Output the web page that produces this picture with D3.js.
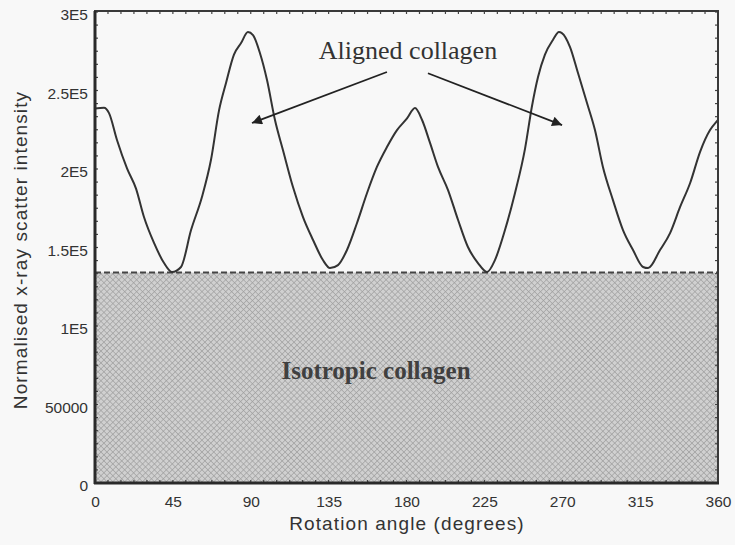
<!DOCTYPE html>
<html><head><meta charset="utf-8">
<script src="https://cdn.jsdelivr.net/npm/d3@7"></script>
<style>
html,body{margin:0;padding:0;background:#f8f8f8;}
svg{display:block;}
</style></head>
<body>
<svg id="chart" width="735" height="545"></svg>
<script>
// ---- data ----
const angles = [0,5.2,8.1,12.7,18.5,23.7,28.3,34.1,39.9,44.5,49.7,55.5,61.8,67.0,71.7,75.7,80.3,84.4,88.4,91.3,95.3,99.4,104.0,108.6,114.4,120.2,126.0,131.7,135.8,140.4,145.6,151.4,157.2,162.9,168.7,174.5,180.3,184.9,189.0,193.6,198.2,204.0,209.8,215.5,221.3,226.5,231.1,236.9,242.7,248.5,252.5,256.0,260.0,264.6,268.1,269.8,274.5,279.1,284.3,288.9,293.5,299.3,305.1,310.9,316.7,319.6,326.5,332.3,338.1,343.9,349.7,355.4,358.9,360];
const intensity = [238600,239000,235600,218500,200400,187500,169400,152900,140100,134400,137600,161100,182200,205700,237500,254800,272900,280200,287200,285300,273900,256700,231200,212100,188500,169400,154800,142000,136900,138800,148400,165600,184700,201300,214000,224800,232200,238800,231200,216600,201300,186600,167500,150300,140100,134400,142000,161100,184700,213000,240000,258600,272900,282200,287200,286600,277700,261100,242000,224800,201300,180200,161100,148400,137600,136900,148400,159200,175800,191100,211100,224800,229900,231200];
const isotropicLevel = 134000;
const xTicks = [0,45,90,135,180,225,270,315,360];
const yTicks = [0,50000,100000,150000,200000,250000,300000];
const yTickLabels = ["0","50000","1E5","1.5E5","2E5","2.5E5","3E5"];
const xTitle = "Rotation angle (degrees)";
const yTitle = "Normalised x-ray scatter intensity";
const annotAligned = "Aligned collagen";
const annotIsotropic = "Isotropic collagen";
// annotation anchors in data units
const arrowStartsAligned = [[168.7,261800],[192.4,261000]];
const arrowTipsAligned = [[90.7,229300],[269.9,228000]];

// ---- layout ----
const L = 95, R = 718, T = 11, B = 483;
const svg = d3.select("#chart");
const x = d3.scaleLinear().domain([0,360]).range([L,R]);
const y = d3.scaleLinear().domain([0,300000]).range([B,T+1]);
const ink = "#333";

// hatch pattern
const defs = svg.append("defs");
const pat = defs.append("pattern").attr("id","hatch").attr("patternUnits","userSpaceOnUse")
  .attr("width",4.2).attr("height",4.2).attr("patternTransform","rotate(45)");
pat.append("rect").attr("width",4.2).attr("height",4.2).attr("fill","#d0d0d0");
pat.append("line").attr("x1",0).attr("y1",0).attr("x2",4.2).attr("y2",0).attr("stroke","#9e9e9e").attr("stroke-width",1.3);
pat.append("line").attr("x1",0).attr("y1",0).attr("x2",0).attr("y2",4.2).attr("stroke","#9e9e9e").attr("stroke-width",1.3);
const mk = defs.append("marker").attr("id","arr").attr("viewBox","0 0 10 10").attr("refX",10).attr("refY",5)
  .attr("markerWidth",15).attr("markerHeight",10).attr("markerUnits","userSpaceOnUse").attr("orient","auto");
mk.append("path").attr("d","M0,0 L10,5 L0,10 Z").attr("fill","#222");

// isotropic region
svg.append("rect").attr("x",x(0)).attr("y",y(isotropicLevel)).attr("width",x(360)-x(0))
  .attr("height",y(0)-y(isotropicLevel)).attr("fill","url(#hatch)");
svg.append("line").attr("x1",x(0)).attr("x2",x(360)).attr("y1",y(isotropicLevel)).attr("y2",y(isotropicLevel))
  .attr("stroke","#444").attr("stroke-width",2).attr("stroke-dasharray","6,3");

// curve
const pts = angles.map((a,i)=>[a,intensity[i]]);
svg.append("path").datum(pts).attr("fill","none").attr("stroke",ink).attr("stroke-width",2)
  .attr("stroke-linejoin","round")
  .attr("d", d3.line().x(d=>x(d[0])).y(d=>y(d[1])).curve(d3.curveMonotoneX));

// minor inside ticks on all four sides
const minorX = d3.range(0,360.01,7.5), minorY = d3.range(0,300001,50000/6);
const tickG = svg.append("g").attr("stroke","#444").attr("stroke-width",1.2);
minorX.forEach(v=>{
  tickG.append("line").attr("x1",x(v)).attr("x2",x(v)).attr("y1",T).attr("y2",T+3);
  tickG.append("line").attr("x1",x(v)).attr("x2",x(v)).attr("y1",B).attr("y2",B-3);
});
minorY.forEach(v=>{
  tickG.append("line").attr("x1",L).attr("x2",L+3).attr("y1",y(v)).attr("y2",y(v));
  tickG.append("line").attr("x1",R).attr("x2",R-3).attr("y1",y(v)).attr("y2",y(v));
});

// frame
svg.append("rect").attr("x",L).attr("y",T).attr("width",R-L).attr("height",B-T)
  .attr("fill","none").attr("stroke","#3a3a3a").attr("stroke-width",2);
svg.append("line").attr("x1",L).attr("x2",L).attr("y1",T).attr("y2",B+1).attr("stroke","#2a2a2a").attr("stroke-width",3);
svg.append("line").attr("x1",L-1).attr("x2",R+1).attr("y1",B).attr("y2",B).attr("stroke","#2a2a2a").attr("stroke-width",3);

// axes (labels via d3 axes, no domain lines)
const xAxis = svg.append("g").attr("transform",`translate(0,${B})`)
  .call(d3.axisBottom(x).tickValues(xTicks).tickSize(0).tickPadding(13).tickFormat(d3.format("d")));
xAxis.select(".domain").remove();
xAxis.selectAll("text").attr("font-family","Liberation Sans, Arial, sans-serif").attr("font-size",15.5).attr("fill","#333");
const yAxis = svg.append("g").attr("transform",`translate(${L},0)`)
  .call(d3.axisLeft(y).tickValues(yTicks).tickSize(0).tickPadding(7).tickFormat((d,i)=>yTickLabels[i]));
yAxis.select(".domain").remove();
yAxis.selectAll("text").attr("font-family","Liberation Sans, Arial, sans-serif").attr("font-size",15.5).attr("fill","#333").attr("dy","0.5em");

// titles
svg.append("text").attr("x",407).attr("y",530).attr("text-anchor","middle")
  .attr("font-family","Liberation Sans, Arial, sans-serif").attr("font-size",19).attr("letter-spacing",1.1)
  .attr("fill","#333").text(xTitle);
svg.append("text").attr("transform","translate(27,250) rotate(-90)").attr("text-anchor","middle")
  .attr("font-family","Liberation Sans, Arial, sans-serif").attr("font-size",19).attr("letter-spacing",1.1)
  .attr("fill","#333").text(yTitle);

// annotations
svg.append("text").attr("x",408).attr("y",59).attr("text-anchor","middle")
  .attr("font-family","Liberation Serif, Times New Roman, serif").attr("font-size",26).attr("fill","#333").text(annotAligned);
svg.append("text").attr("x",376).attr("y",379).attr("text-anchor","middle")
  .attr("font-family","Liberation Serif, Times New Roman, serif").attr("font-size",25).attr("font-weight","bold")
  .attr("fill","#404040").text(annotIsotropic);
arrowStartsAligned.forEach((s,i)=>{
  const t = arrowTipsAligned[i];
  svg.append("line").attr("x1",x(s[0])).attr("y1",y(s[1])).attr("x2",x(t[0])).attr("y2",y(t[1]))
    .attr("stroke","#222").attr("stroke-width",1.8).attr("marker-end","url(#arr)");
});
</script>
</body></html>
